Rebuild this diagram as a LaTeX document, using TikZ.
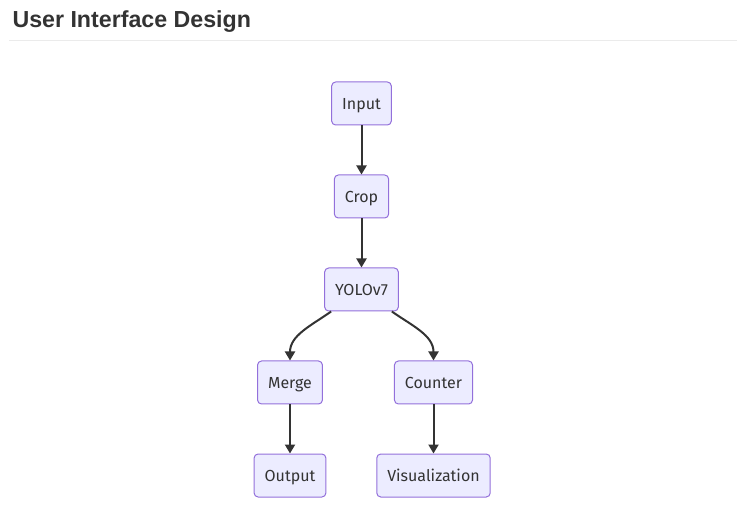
\documentclass[tikz,border=0pt]{standalone}
\usepackage{fontspec}
\setmainfont{Fira Sans}
\newfontfamily\titlefont{Liberation Sans}
\usepackage{xcolor}
\usetikzlibrary{arrows.meta,positioning}
\definecolor{boxfill}{HTML}{ECECFF}
\definecolor{boxline}{HTML}{9370DB}
\definecolor{ink}{HTML}{333333}

\begin{document}
\begin{tikzpicture}[x=1pt, y=-1pt,
            box/.style={shape=rectangle, rounded corners=4pt, draw=boxline, fill=boxfill, line width=1pt,
                        minimum height=43pt, inner xsep=10.5pt, text height=13pt, text depth=1pt,
                        text=ink, font=\fontsize{16pt}{18pt}\selectfont},
            arr/.style={draw=ink, line width=2pt, -{Triangle[length=9pt, width=10pt]}}]
        \useasboundingbox (0,0) rectangle (747,510);
        \node[anchor=base west, text=ink, font=\titlefont\bfseries\fontsize{23.2pt}{26pt}\selectfont] (title) at (9,27.5) {User Interface Design};
        \draw[draw=black!8, line width=1pt] (9,41) -- (737,41);

        \node[box] (input) at (361.5,103.5) {Input};
        \node[box] (crop) at (361.5,196.5) {Crop};
        \node[box] (yolo) at (361.5,289.5) {YOLOv7};
        \node[box] (merge) at (290,382.5) {Merge};
        \node[box] (counter) at (433.5,382.5) {Counter};
        \node[box] (output) at (290,475.5) {Output};
        \node[box] (vis) at (433.5,475.5) {Visualization};

        \draw[arr] (input) -- (crop);
        \draw[arr] (crop) -- (yolo);
        \draw[arr] ([xshift=7pt]yolo.south west) to[out=-145, in=90] (merge.north);
        \draw[arr] ([xshift=-7pt]yolo.south east) to[out=-35, in=90] (counter.north);
        \draw[arr] (merge) -- (output);
        \draw[arr] (counter) -- (vis);
\end{tikzpicture}
\end{document}
